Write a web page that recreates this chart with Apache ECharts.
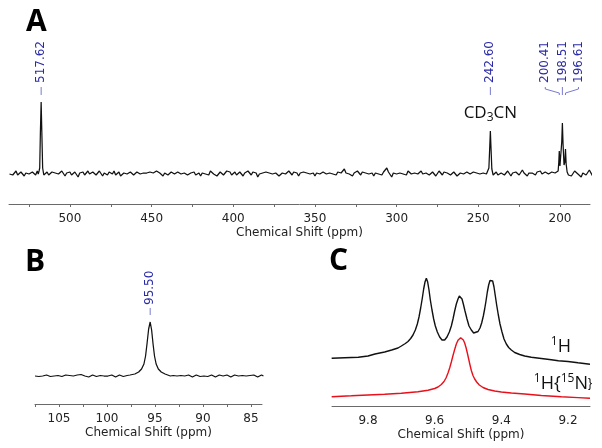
<!DOCTYPE html>
<html>
<head>
<meta charset="utf-8">
<script src="https://cdn.jsdelivr.net/npm/echarts@6/dist/echarts.min.js"></script>
<style>
  html, body { margin: 0; padding: 0; background: #fff; }
  #chart { width: 602px; height: 448px; }
</style>
</head>
<body>
<div id="chart"></div>
<script>
// ---- panel A: wide spectrum, noise read every 1 ppm from 537 ppm downwards
const noiseAStart = 537;
const noiseAStep = 1;
const noiseA = [
  0, 2, -1, 1, 3, -1, 0, 2, 1, -2, 1, 3, 0, -1, 2, 1, -1, 3, 2, 0,
  1, -2, 0, 2, -1, 1, 2, 4, 1, -1, 0, 2, 3, 1, -2, 1, 0, 2, -1, 1,
  2, 0, -3, 1, 0, 2, -1, 1, 3, 0, -2, 2, 1, -1, 0, 3, 1, -2, 1, 0,
  -1, 2, 1, 0, 3, -1, 1, 2, -2, 0, 1, 3, 0, -1, 2, 1, -1, 0, 2, 1,
  0, -2, 1, 3, 1, -1, 2, 0, 1, -1, 3, 4, 1, 0, -2, 1, 2, -1, 0, 2,
  1, 0, -1, 2, 3, 0, -2, 1, 2, -1, 0, 1, 3, 2, -1, 0, 1, -2, 1, 2,
  0, 1, -1, 3, 2, 0, 1, -2, 0, 2, 1, -1, 0, 3, 1, 2, -1, 0, 2, -1,
  1, 2, 0, -2, 1, 0, 3, 1, -1, 2, 0, 1, -3, 0, 2, 1, -1, 2, 0, 1,
  3, 0, -1, 1, 2, -2, 0, 1, 2, 0, -1, 3, 1, -1, 2, 0, 1, -2, 1, 0,
  2, 4, 1, -1, 0, 2, 1, -2, 1, 3, 0, -1, 2, 1, 0, -2, 1, 2, 0, 1,
  -1, 2, 0, 1, 3, 5, 1, -1, 0, 2, -2, 1, 0, 3, 1, -1, 2, 0, 1, -1,
  0, 2, 1, -2, 1, 3, 0, 1, -1, 2, 4, 6, 2, 0, -3, 1, 2, 0, -1, 1,
  2, 0, 1, -1, 3, 1, 0, -2, 1, 2, 0, 1, 3, 0, -1, 1, 2, -1, 0, 2,
  1, -2, 0, 3, 1, -1, 2, 0, 1, 3, -1, 0, 2, 1, -2, 0, 1, 2, 0, -1,
  2, 1, 0, -1, 2, 0, 1, 3, 0, -2, 1, 2, 0, 1, -1, 3, 1, 0, 2, -1,
  0, 1, 2, -1, 0, 3, 1, -2, 1, 0, 2, 1, -1, 0, 4, 1, 0, -2, 1, 2,
  1, 0, -1, 2, 1, 3, 0, -2, 2, 1, 0, -1, 2, 0, 1, 3, -1, 0, 2, 1,
  0, -1, 2, 1, -2, 0, 3, 1, 0, 2, -3, 1, 2, -1, 0, 4, 2, -2, 1, 0
];
const peakA1 = [[519.4, 0], [518.9, 3], [518.5, 6], [518.1, 40], [517.62, 72], [517.2, 42], [516.7, 6], [516.0, -1]];
const peakA2 = [[244.3, 0], [243.5, 6], [243.0, 26], [242.6, 43], [242.2, 26], [241.7, 5], [240.9, -1]];
const peakA3 = [
  [202.0, 1], [201.1, 3], [200.7, 12], [200.41, 23], [200.0, 8], [199.4, 10], [198.9, 32],
  [198.51, 51], [198.1, 30], [197.5, 9], [197.0, 12], [196.61, 25], [196.2, 10], [195.6, 2], [194.8, -1]
];
const labelsA = [517.62, 242.60, 200.41, 198.51, 196.61];

// ---- panel B: single peak, noise read every 0.2 ppm from 107.5 ppm downwards
// (values under the peak window are dropped)
const noiseBStart = 107.5;
const noiseBStep = 0.2;
const noiseB = [
  0, 1, -0.5, 1, 0, -1, 1, 0.5, -0.5, 1.5, 0, -1, 0.5, 1, -0.5, 0, 1, -1, 0.5, 1,
  0, -0.5, 1, 0, 1.5, -0.5, 0, 1, -1, 0.5, 1, 0, -0.5, 1, 0.5, -1, 0, 1.5, 0, -0.5,
  1, 0, -1, 0.5, 1, 0, -0.5, 1, 0.5, 1, 0, 0, 0, 0, 0, 0, 0, 0, 0, 0,
  0, 0, 0, 0, 0, 0, 0, 0, 0, 0, 0, -0.5, 0.5, 1, 0, -1, 0.5, 1, 0, -0.5,
  1, 0.5, -1, 0, 1, 0.5, -0.5, 1, 0, 1.5, -0.5, 0, 1, 0.5, -1, 0, 1, 0.5, 0, -0.5,
  1, 0, -1, 0.5, 1, -0.5, 0, 1, 0.5, -1, 0, 1, 0.5, -0.5, 1, 0, -1, 0.5, 1, 0
];
const peakB = [
  [97.6, 1], [97.1, 2], [96.7, 4], [96.4, 7], [96.15, 12], [95.98, 20], [95.82, 33], [95.66, 47],
  [95.5, 54], [95.35, 46], [95.2, 32], [95.05, 20], [94.88, 12], [94.65, 7], [94.35, 4], [93.95, 2], [93.4, 0]
];
const labelsB = [95.50];

// ---- panel C: 1H triplet and 15N-decoupled singlet
const protonC = [
  [9.909, 41.7], [9.87, 42.2], [9.829, 42.7], [9.80, 44], [9.779, 46], [9.75, 48], [9.729, 50], [9.71, 52],
  [9.700, 54], [9.694, 55.5], [9.688, 56.5], [9.680, 58.5], [9.672, 61.5], [9.665, 65], [9.658, 70], [9.652, 76],
  [9.647, 83], [9.642, 92], [9.637, 102], [9.633, 111], [9.629, 118], [9.625, 121.7], [9.621, 118], [9.617, 110],
  [9.613, 100], [9.608, 90], [9.603, 81], [9.598, 74], [9.592, 68], [9.585, 63], [9.578, 60], [9.570, 60],
  [9.563, 63], [9.556, 68], [9.550, 74], [9.545, 81], [9.540, 89], [9.535, 96], [9.530, 101], [9.526, 104],
  [9.522, 104], [9.518, 101], [9.514, 96], [9.509, 89], [9.503, 81], [9.497, 74], [9.490, 70], [9.483, 67],
  [9.477, 66.5], [9.470, 68.5], [9.464, 72], [9.459, 77], [9.454, 84], [9.450, 91], [9.446, 99], [9.442, 108],
  [9.438, 115], [9.434, 119.5], [9.430, 121], [9.426, 119], [9.422, 113], [9.418, 104], [9.414, 95], [9.409, 85],
  [9.404, 76], [9.398, 68], [9.392, 61], [9.385, 56], [9.378, 52.5], [9.370, 50], [9.360, 47.5], [9.345, 45.5],
  [9.330, 44], [9.310, 42.7], [9.28, 41.5], [9.25, 40.2], [9.229, 39.3], [9.20, 38.5], [9.17, 37.2], [9.134, 35.7]
];
const decoupledC = [
  [9.909, 3.3], [9.85, 4.2], [9.80, 5], [9.75, 5.8], [9.70, 6.8], [9.65, 8.2], [9.62, 9.8], [9.60, 11.5],
  [9.59, 13], [9.58, 15.5], [9.572, 18.5], [9.566, 22], [9.560, 27], [9.555, 32], [9.550, 38], [9.545, 44.5],
  [9.540, 50.5], [9.535, 56], [9.530, 59.8], [9.526, 61.7], [9.522, 62.3], [9.518, 61.7], [9.514, 60], [9.510, 57],
  [9.506, 52.5], [9.502, 47], [9.498, 41], [9.494, 35], [9.490, 29.5], [9.485, 24.5], [9.480, 21], [9.474, 18],
  [9.466, 15], [9.455, 12.5], [9.44, 10.5], [9.42, 9], [9.40, 8], [9.37, 7], [9.33, 6], [9.28, 4.5],
  [9.22, 3.2], [9.17, 2.4], [9.134, 1.7]
];

const ticksA = [200, 250, 300, 350, 400, 450, 500];
const minorA = [200, 225, 250, 275, 300, 325, 350, 375, 400, 425, 450, 475, 500, 525];
const ticksB = [85, 90, 95, 100, 105];
const minorB = [85, 87.5, 90, 92.5, 95, 97.5, 100, 102.5, 105, 107.5];
const ticksC = [9.2, 9.4, 9.6, 9.8];

// noise points outside the peak segments, plus the peak segments, high ppm first
function buildSpectrum(start, step, noise, segments) {
  const pts = [];
  noise.forEach((v, i) => {
    const x = +(start - i * step).toFixed(3);
    const inside = segments.some(s => x <= s[0][0] && x >= s[s.length - 1][0]);
    if (!inside) pts.push([x, v]);
  });
  segments.forEach(s => s.forEach(p => pts.push(p)));
  return pts.sort((a, b) => b[0] - a[0]);
}

const specA = buildSpectrum(noiseAStart, noiseAStep, noiseA, [peakA1, peakA2, peakA3]);
const specB = buildSpectrum(noiseBStart, noiseBStep, noiseB, [peakB]);

const AXIS_FONT = 'DejaVu Sans';
const BLUE = '#2a2aa8';

function makeXAxis(gridIndex, min, max, labels, ticks) {
  return {
    type: 'value',
    gridIndex,
    inverse: true,
    min,
    max,
    axisLine: { onZero: false, lineStyle: { color: '#6a6a6a', width: 1 } },
    axisTick: ticks
      ? { show: true, customValues: ticks, length: 3, lineStyle: { color: '#6a6a6a' } }
      : { show: false },
    axisLabel: {
      customValues: labels,
      color: '#222',
      fontFamily: AXIS_FONT,
      fontSize: 12,
      margin: 9,
    },
    splitLine: { show: false },
    name: 'Chemical Shift (ppm)',
    nameLocation: 'middle',
    nameGap: 23,
    nameTextStyle: { color: '#222', fontFamily: AXIS_FONT, fontSize: 12 },
  };
}

const lineSeries = (idx, data, color, width) => ({
  type: 'line',
  xAxisIndex: idx,
  yAxisIndex: idx,
  data,
  showSymbol: false,
  symbol: 'none',
  lineStyle: { color, width },
  silent: true,
});

const chart = echarts.init(document.getElementById('chart'), null, { renderer: 'canvas' });

chart.setOption({
  animation: false,
  backgroundColor: '#fff',
  grid: [
    { left: 9, top: 20, width: 581, height: 184 },
    { left: 35, top: 260, width: 227, height: 144 },
    { left: 332, top: 260, width: 258, height: 146 },
  ],
  xAxis: [
    makeXAxis(0, 181.6, 537.3, ticksA, minorA),
    makeXAxis(1, 83.85, 107.5, ticksB, minorB),
    makeXAxis(2, 9.134, 9.908, ticksC, null),
  ],
  yAxis: [
    { type: 'value', gridIndex: 0, min: -30, max: 154, show: false },
    { type: 'value', gridIndex: 1, min: -28, max: 116, show: false },
    { type: 'value', gridIndex: 2, min: -6, max: 140, show: false },
  ],
  series: [
    lineSeries(0, specA, '#111', 1.25),
    lineSeries(1, specB, '#111', 1.25),
    lineSeries(2, protonC, '#111', 1.4),
    lineSeries(2, decoupledC, '#e8101a', 1.4),
  ],
});

// annotations placed from data coordinates
const toX = (i, v) => chart.convertToPixel({ xAxisIndex: i }, v);
const toY = (i, v) => chart.convertToPixel({ yAxisIndex: i }, v);

const graphics = [];
const letter = (t, x, y) => graphics.push({
  type: 'text', x, y,
  style: { text: t, fontFamily: 'Open Sans', fontWeight: 'bold', fontSize: 30, fill: '#000', verticalAlign: 'middle' },
});
letter('A', 26, 22);
letter('B', 25, 262);
letter('C', 329, 261);

function peakLabel(axis, ppm, dx, baseY, textGap, dashTop, dashBottom) {
  const px = toX(axis, ppm);
  const lx = px + dx;
  graphics.push({
    type: 'text', x: lx, y: baseY - textGap, rotation: Math.PI / 2,
    style: { text: ppm.toFixed(2), fontFamily: AXIS_FONT, fontSize: 12, fill: BLUE, align: 'left', verticalAlign: 'middle' },
  });
  const pts = dx === 0
    ? [[lx, baseY - dashTop], [lx, baseY - dashBottom]]
    : [[lx, baseY - dashTop], [lx, baseY - dashTop + 2], [px, baseY - dashBottom - 2], [px, baseY - dashBottom]];
  graphics.push({
    type: 'polyline',
    shape: { points: pts },
    style: { stroke: '#7a7ad0', lineWidth: 1, fill: null },
  });
}

const baseA = toY(0, 0);
const offsetsA = [0, 0, -14, 0, 13];
labelsA.forEach((p, i) => peakLabel(0, p, offsetsA[i], baseA, 91, 87, 79));
const baseB = toY(1, 0);
labelsB.forEach(p => peakLabel(1, p, 0, baseB, 71, 68, 61));

// solvent label sits over the 242.6 ppm peak
graphics.push({
  type: 'text', x: toX(0, 242.6), y: baseA - 61,
  style: {
    text: '{m|CD}{s|3}{m|CN}',
    align: 'center', verticalAlign: 'middle',
    rich: {
      m: { fontFamily: 'Open Sans', fontSize: 17, fill: '#111', lineHeight: 22, verticalAlign: 'middle' },
      s: { fontFamily: 'Open Sans', fontSize: 12, fill: '#111', lineHeight: 12, verticalAlign: 'bottom' },
    },
  },
});

const richC = {
  m: { fontFamily: 'Open Sans', fontSize: 18, fill: '#111', lineHeight: 22, verticalAlign: 'middle' },
  s: { fontFamily: 'Open Sans', fontSize: 12, fill: '#111', lineHeight: 11, verticalAlign: 'top' },
};
graphics.push({
  type: 'text', x: 571, y: 347,
  style: { text: '{s|1}{m|H}', align: 'right', verticalAlign: 'middle', rich: richC },
});
graphics.push({
  type: 'text', x: 592, y: 384,
  style: { text: '{s|1}{m|H\u007B}{s|15}{m|N\u007D}', align: 'right', verticalAlign: 'middle', rich: richC },
});

chart.setOption({ graphic: graphics });
</script>
</body>
</html>
